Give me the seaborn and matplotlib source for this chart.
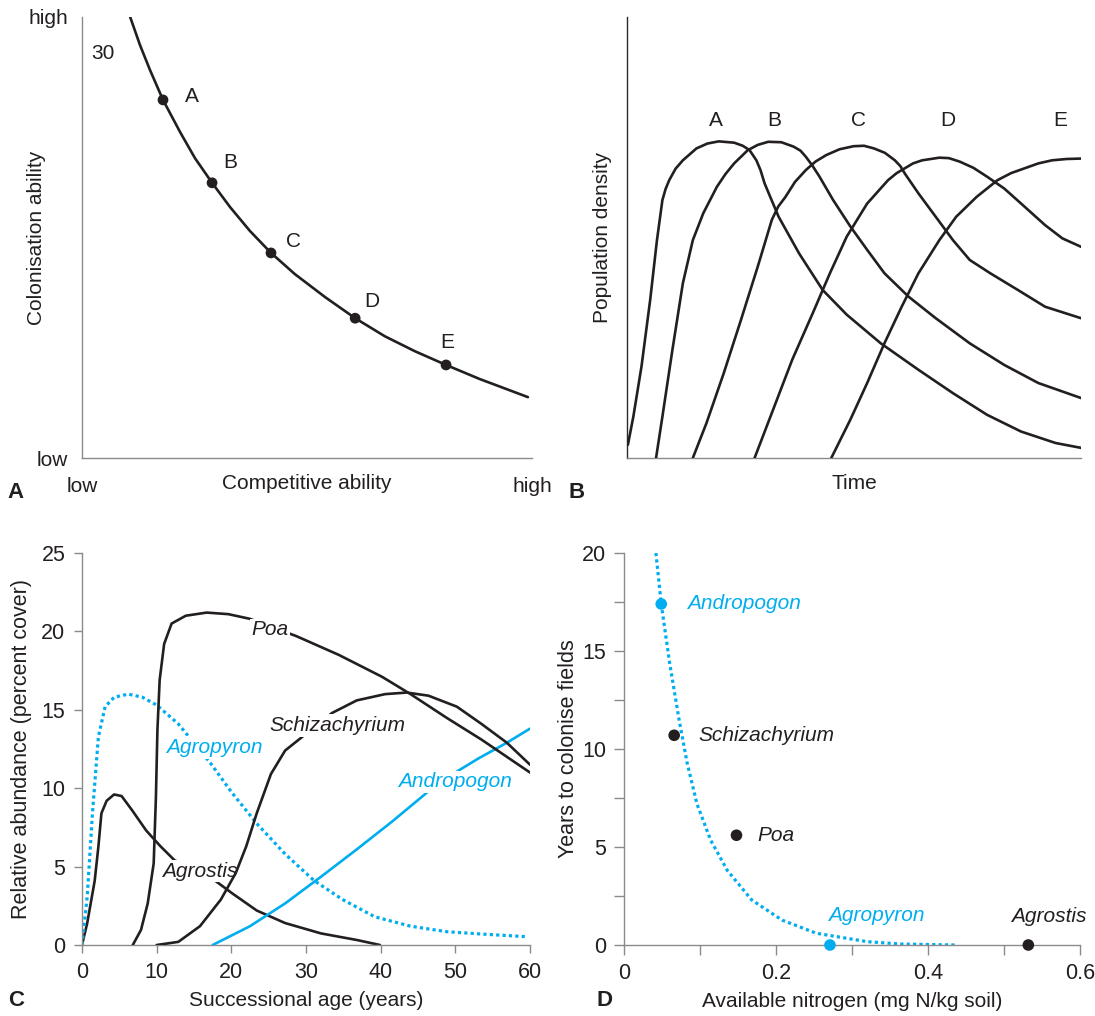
"""
Colonisation vs competition trade-off: four panel figure (A-D).
"""
import matplotlib
matplotlib.use("Agg")
import matplotlib.pyplot as plt
import seaborn as sns

INK = "#231f20"
BLUE = "#00aeef"
SPINE = "#8a8a8a"

# ---- panel A: trade-off curve (arbitrary 0-100 units) ----
A_CURVE_X = [10.7, 12.9, 15.1, 18.0, 21.8, 25.1, 28.9, 32.9, 37.3, 42.0, 47.3, 54.0, 60.7, 67.3, 74.0, 80.9, 88.4, 99.1]
A_CURVE_Y = [100, 93.6, 88.0, 81.2, 73.9, 68.0, 62.4, 56.9, 51.5, 46.5, 41.7, 36.5, 31.7, 27.6, 24.2, 21.1, 17.9, 13.8]
A_POINT_NAMES = ["A", "B", "C", "D", "E"]
A_POINT_X = [18.0, 28.9, 42.0, 60.7, 80.9]
A_POINT_Y = [81.2, 62.4, 46.5, 31.7, 21.1]
A_LABEL_X = [24.4, 32.9, 46.9, 64.4, 81.1]
A_LABEL_Y = [81.9, 66.9, 49.0, 35.6, 26.3]

# ---- panel B: population density over time (arbitrary units) ----
B_A_X = [0.2, 1.4, 3.2, 5.1, 6.6, 7.8, 8.5, 9.3, 10.7, 12.3, 15.3, 17.7, 20.2, 23.6, 25.5, 27.0, 28.5, 29.4, 30.3, 31.8, 33.4, 37.9, 43.1, 48.4, 55.9, 64.2, 71.8, 79.3, 86.8, 94.4, 100]
B_A_Y = [3.0, 9.4, 20.8, 35.8, 49.4, 58.5, 61.0, 63.0, 65.6, 67.5, 70.2, 71.3, 71.8, 71.5, 70.8, 69.8, 67.5, 65.3, 62.3, 58.6, 54.7, 46.4, 38.1, 32.5, 26.0, 20.0, 14.7, 9.8, 6.0, 3.4, 2.3]
B_B_X = [6.4, 7.8, 10.0, 12.3, 14.5, 16.8, 19.8, 21.7, 23.6, 26.6, 28.8, 31.1, 34.0, 36.7, 38.2, 39.4, 40.9, 42.4, 45.4, 49.2, 52.9, 56.7, 62.0, 68.0, 75.5, 83.1, 90.6, 100]
B_B_Y = [0, 9.4, 24.5, 39.6, 49.4, 55.5, 61.5, 64.4, 66.8, 69.8, 71.0, 71.7, 71.6, 70.6, 69.7, 68.3, 66.2, 63.8, 58.5, 52.5, 47.2, 41.9, 36.6, 31.7, 26.0, 21.1, 17.0, 13.6]
B_C_X = [14.5, 17.5, 21.3, 25.1, 28.8, 31.9, 33.3, 34.9, 37.0, 39.4, 41.5, 43.9, 46.8, 49.9, 52.2, 54.4, 56.8, 59.0, 60.2, 61.2, 64.2, 68.0, 71.8, 75.5, 80.0, 86.1, 92.1, 100]
B_C_Y = [0, 7.9, 19.2, 31.3, 43.4, 54.0, 57.0, 59.2, 62.6, 65.3, 67.2, 68.7, 70.0, 70.7, 70.8, 70.2, 69.2, 67.5, 66.2, 64.5, 60.0, 54.7, 49.4, 44.9, 41.9, 38.1, 34.3, 31.7]
B_D_X = [28.1, 31.9, 36.4, 40.9, 44.7, 48.4, 52.9, 57.5, 59.4, 61.2, 63.0, 65.0, 68.8, 70.9, 73.3, 76.3, 79.3, 83.1, 86.8, 92.1, 95.9, 100]
B_D_Y = [0, 10.2, 22.3, 32.8, 41.9, 50.2, 57.7, 63.0, 64.6, 65.7, 66.8, 67.5, 68.1, 68.0, 67.2, 65.8, 63.8, 61.1, 57.7, 52.8, 49.8, 47.9]
B_E_X = [45.0, 49.2, 52.9, 56.7, 60.5, 64.2, 68.8, 72.5, 77.0, 81.6, 84.6, 87.6, 90.6, 93.6, 96.8, 100]
B_E_Y = [0, 8.7, 17.0, 26.0, 34.3, 41.9, 49.4, 54.7, 59.2, 63.0, 64.6, 65.7, 66.8, 67.5, 67.8, 67.9]
B_LABELS = ["A", "B", "C", "D", "E"]
B_LABEL_X = [19.6, 32.5, 51.1, 70.7, 95.5]

# ---- panel C: relative abundance (percent cover) vs successional age ----
POA_AGE = [6.8, 7.9, 8.8, 9.6, 9.9, 10.1, 10.4, 11.0, 12.0, 13.9, 16.7, 19.6, 22.5, 28.7, 34.4, 40.2, 44.0, 48.8, 53.5, 56.9, 60]
POA_COVER = [0, 0.96, 2.65, 5.2, 9.45, 13.7, 16.9, 19.2, 20.5, 21.0, 21.2, 21.1, 20.8, 19.7, 18.5, 17.1, 16.0, 14.5, 13.1, 12.0, 11.0]
SCHIZ_AGE = [10.0, 12.9, 15.8, 18.6, 20.6, 22.0, 23.4, 25.3, 27.2, 33.5, 36.8, 40.6, 43.5, 46.4, 50.2, 53.5, 56.9, 60]
SCHIZ_COVER = [0, 0.2, 1.2, 2.9, 4.6, 6.3, 8.4, 10.9, 12.4, 14.8, 15.6, 16.0, 16.1, 15.9, 15.2, 14.1, 12.9, 11.5]
AGROSTIS_AGE = [0, 0.7, 1.7, 2.2, 2.6, 3.3, 4.3, 5.3, 6.7, 8.6, 10.5, 12.4, 16.7, 20.1, 23.4, 27.2, 32.0, 36.8, 39.9]
AGROSTIS_COVER = [0, 1.4, 4.1, 6.3, 8.4, 9.2, 9.6, 9.5, 8.6, 7.3, 6.3, 5.4, 4.5, 3.3, 2.2, 1.4, 0.74, 0.32, 0]
AGROPYRON_AGE = [0, 0.7, 1.4, 2.2, 3.1, 4.3, 6.2, 8.1, 10.0, 12.9, 17.2, 20.1, 23.4, 27.2, 31.1, 34.9, 39.2, 44.0, 48.8, 53.5, 59.5]
AGROPYRON_COVER = [0, 3.1, 8.4, 13.3, 15.2, 15.8, 16.0, 15.8, 15.3, 14.1, 11.6, 9.7, 7.75, 5.8, 4.1, 2.9, 1.8, 1.2, 0.85, 0.7, 0.53]
ANDRO_AGE = [17.5, 22.5, 27.2, 32.0, 36.8, 41.6, 46.4, 50.0, 53.1, 56.9, 60]
ANDRO_COVER = [0, 1.2, 2.65, 4.35, 6.1, 7.9, 9.8, 11.0, 11.9, 12.9, 13.8]

# ---- panel D: years to colonise vs available nitrogen ----
D_FIT_N = [0.042, 0.049, 0.060, 0.072, 0.083, 0.096, 0.114, 0.136, 0.168, 0.208, 0.253, 0.320, 0.364, 0.436]
D_FIT_YEARS = [20, 17.4, 14.4, 11.6, 9.3, 7.2, 5.35, 3.8, 2.3, 1.27, 0.6, 0.17, 0.05, 0]
D_SPECIES = ["Andropogon", "Schizachyrium", "Poa", "Agropyron", "Agrostis"]
D_N = [0.049, 0.066, 0.148, 0.271, 0.532]
D_YEARS = [17.4, 10.7, 5.6, 0, 0]
D_BLUE = [True, False, False, True, False]
D_LABEL_X = [0.083, 0.098, 0.176, 0.268, 0.509]
D_LABEL_Y = [17.4, 10.7, 5.6, 1.5, 1.45]

FS = 15

sns.set_theme(style="white")
plt.rcParams["font.family"] = ["Liberation Sans", "DejaVu Sans"]
plt.rcParams["text.color"] = INK
plt.rcParams["axes.labelcolor"] = INK
plt.rcParams["xtick.color"] = SPINE
plt.rcParams["ytick.color"] = SPINE
plt.rcParams["xtick.labelcolor"] = INK
plt.rcParams["ytick.labelcolor"] = INK

fig = plt.figure(figsize=(10.95, 10.16), dpi=100)
axA = fig.add_axes([0.07489, 0.54921, 0.41096, 0.43406])
axB = fig.add_axes([0.57260, 0.54921, 0.41461, 0.43406])
axC = fig.add_axes([0.07489, 0.06988, 0.40913, 0.38583])
axD = fig.add_axes([0.56986, 0.06988, 0.41644, 0.38583])


def style_spines(ax, left=SPINE, bottom=SPINE):
    for side in ["top", "right"]:
        ax.spines[side].set_visible(False)
    ax.spines["left"].set_color(left)
    ax.spines["bottom"].set_color(bottom)
    ax.spines["left"].set_linewidth(1.0)
    ax.spines["bottom"].set_linewidth(1.0)


def curve(ax, x, y, color=INK, lw=1.9, z=3, **kw):
    sns.lineplot(x=x, y=y, ax=ax, color=color, lw=lw, sort=False,
                 estimator=None, zorder=z, solid_joinstyle="round", **kw)


# ---------------- A ----------------
curve(axA, A_CURVE_X, A_CURVE_Y)
sns.scatterplot(x=A_POINT_X, y=A_POINT_Y, ax=axA, color=INK, s=60,
                edgecolor="none", zorder=4)
for name, x, y in zip(A_POINT_NAMES, A_LABEL_X, A_LABEL_Y):
    axA.text(x, y, name, fontsize=FS, ha="center", va="center")
axA.text(4.7, 91.8, "30", fontsize=FS, ha="center", va="center")
axA.set_xlim(0, 100)
axA.set_ylim(0, 100)
axA.set_xticks([0, 100], ["low", "high"])
axA.set_yticks([0, 100], ["low", "high"])
axA.tick_params(length=0, labelsize=FS)
axA.tick_params(axis="x", pad=14)
axA.tick_params(axis="y", pad=10)
axA.text(0.5, -0.057, "Competitive ability", transform=axA.transAxes,
         fontsize=FS, ha="center", va="center")
axA.set_ylabel("Colonisation ability", fontsize=FS)
axA.yaxis.set_label_coords(-0.081, 0.5)
style_spines(axA)

# ---------------- B ----------------
for xs, ys in [(B_A_X, B_A_Y), (B_B_X, B_B_Y), (B_C_X, B_C_Y),
               (B_D_X, B_D_Y), (B_E_X, B_E_Y)]:
    curve(axB, xs, ys)
for name, x in zip(B_LABELS, B_LABEL_X):
    axB.text(x, 76.6, name, fontsize=FS, ha="center", va="center")
axB.set_xlim(0, 100)
axB.set_ylim(0, 100)
axB.set_xticks([])
axB.set_yticks([])
axB.text(0.5, -0.057, "Time", transform=axB.transAxes,
         fontsize=FS, ha="center", va="center")
axB.set_ylabel("Population density", fontsize=FS)
axB.yaxis.set_label_coords(-0.034, 0.5)
style_spines(axB, left="#2a2a2a", bottom=SPINE)

# ---------------- C ----------------
dotted = dict(linestyle=(0, (1, 1)))
lbl = dict(fontsize=FS, style="italic", ha="center", va="center",
           bbox=dict(boxstyle="square,pad=0.08", fc="white", ec="none"))
curve(axC, AGROSTIS_AGE, AGROSTIS_COVER, z=1)
axC.text(15.8, 4.7, "Agrostis", zorder=1.5, **lbl)
curve(axC, AGROPYRON_AGE, AGROPYRON_COVER, color=BLUE, lw=2.3, z=2, **dotted)
axC.text(17.7, 12.6, "Agropyron", color=BLUE, zorder=2.5, **lbl)
curve(axC, ANDRO_AGE, ANDRO_COVER, color=BLUE, z=3)
axC.text(50.0, 10.4, "Andropogon", color=BLUE, zorder=3.5, **lbl)
curve(axC, POA_AGE, POA_COVER, z=4)
axC.text(25.2, 20.1, "Poa", zorder=4.5, **lbl)
curve(axC, SCHIZ_AGE, SCHIZ_COVER, z=5)
axC.text(34.2, 14.0, "Schizachyrium", zorder=5.5, **lbl)
axC.set_xlim(0, 60)
axC.set_ylim(0, 25)
axC.set_xticks(range(0, 61, 10))
axC.set_yticks(range(0, 26, 5))
axC.tick_params(direction="out", length=6, width=1.0, labelsize=FS + 0.5,
                pad=6, bottom=True, left=True)
axC.set_xlabel("Successional age (years)", fontsize=FS, labelpad=6)
axC.set_ylabel("Relative abundance (percent cover)", fontsize=FS + 0.5)
axC.yaxis.set_label_coords(-0.112, 0.5)
style_spines(axC)

# ---------------- D ----------------
curve(axD, D_FIT_N, D_FIT_YEARS, color=BLUE, lw=2.3, z=2, **dotted)
dot_colors = [BLUE if b else INK for b in D_BLUE]
sns.scatterplot(x=D_N, y=D_YEARS, ax=axD, hue=D_SPECIES,
                palette=dict(zip(D_SPECIES, dot_colors)), s=70,
                edgecolor="none", legend=False, zorder=4, clip_on=False)
for name, x, y, c in zip(D_SPECIES, D_LABEL_X, D_LABEL_Y, dot_colors):
    axD.text(x, y, name, fontsize=FS, style="italic", color=c,
             ha="left", va="center")
axD.set_xlim(0, 0.6)
axD.set_ylim(0, 20)
axD.set_xticks([0, 0.2, 0.4, 0.6], ["0", "0.2", "0.4", "0.6"])
axD.set_xticks([0.1, 0.3, 0.5], minor=True)
axD.set_yticks([0, 5, 10, 15, 20])
axD.set_yticks([2.5, 7.5, 12.5, 17.5], minor=True)
axD.tick_params(which="both", direction="out", length=7, width=1.0,
                labelsize=FS + 0.5, pad=6, bottom=True, left=True)
axD.set_xlabel("Available nitrogen (mg N/kg soil)", fontsize=FS, labelpad=6)
axD.set_ylabel("Years to colonise fields", fontsize=FS + 0.5)
axD.yaxis.set_label_coords(-0.098, 0.5)
style_spines(axD)

# panel letters
for letter, x, y in [("A", 16, 492), ("B", 577, 492), ("C", 16, 1000), ("D", 605, 1000)]:
    fig.text(x / 1095, 1 - y / 1016, letter, fontsize=16, fontweight="bold",
             ha="center", va="center")

fig.savefig("out.png", dpi=100)
